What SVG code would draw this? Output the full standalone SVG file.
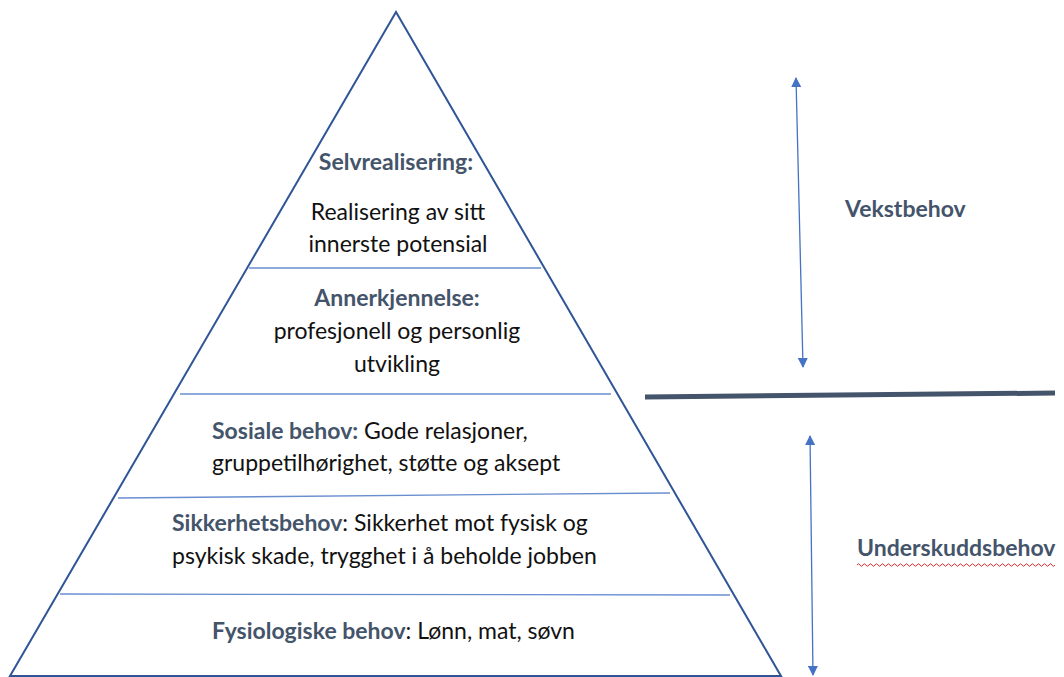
<svg xmlns="http://www.w3.org/2000/svg" width="1064" height="677" viewBox="0 0 1064 677">
<style>
.t{font-family:Lato,"Open Sans","Liberation Sans",sans-serif;font-size:23px;fill:#111}
.h{font-weight:bold;fill:#44546A}
.edge{fill:none;stroke:#2F5597;stroke-width:2}
.div{stroke:#4472C4;stroke-width:1.3;stroke-opacity:0.8}
.arr{stroke:#4472C4;stroke-width:1.3;marker-start:url(#ah);marker-end:url(#ah)}
</style>
<defs>
<marker id="ah" viewBox="0 0 10 10" refX="9" refY="5" markerWidth="10" markerHeight="10" markerUnits="userSpaceOnUse" orient="auto-start-reverse">
<path d="M0,0 L10,5 L0,10 z" fill="#4472C4"/>
</marker>
</defs>
<rect width="1064" height="677" fill="#fff"/>
<g id="pyramid">
<polygon class="edge" points="396,12 10,676 781,676"/>
</g>
<g id="level-selvrealisering">
<text class="t h" x="396" y="170" text-anchor="middle">Selvrealisering:</text>
<text class="t" x="398" y="220" text-anchor="middle">Realisering av sitt</text>
<text class="t" x="398" y="252" text-anchor="middle">innerste potensial</text>
</g>
<line class="div" x1="249" y1="268" x2="541" y2="268"/>
<g id="level-annerkjennelse">
<text class="t h" x="397" y="306" text-anchor="middle">Annerkjennelse:</text>
<text class="t" x="397" y="339" text-anchor="middle">profesjonell og personlig</text>
<text class="t" x="397" y="372" text-anchor="middle">utvikling</text>
</g>
<line class="div" x1="180" y1="394" x2="611" y2="394"/>
<g id="level-sosiale">
<text class="t" x="212" y="439"><tspan class="h">Sosiale behov:</tspan> Gode relasjoner,</text>
<text class="t" x="212" y="471">gruppetilhørighet, støtte og aksept</text>
</g>
<line class="div" x1="118" y1="498" x2="670" y2="493"/>
<g id="level-sikkerhet">
<text class="t" x="172" y="531"><tspan class="h">Sikkerhetsbehov</tspan>: Sikkerhet mot fysisk og</text>
<text class="t" x="172" y="564">psykisk skade, trygghet i å beholde jobben</text>
</g>
<line class="div" x1="60" y1="594" x2="730" y2="595"/>
<g id="level-fysiologiske">
<text class="t" x="212" y="639"><tspan class="h">Fysiologiske behov</tspan>: Lønn, mat, søvn</text>
</g>
<g id="connectors">
<line class="arr" x1="796" y1="78" x2="803" y2="367"/>
<line class="arr" x1="810" y1="436" x2="813" y2="675"/>
<line x1="645" y1="397" x2="1055" y2="393" stroke="#44546A" stroke-width="5"/>
</g>
<g id="label-vekst">
<text class="t h" x="845" y="217">Vekstbehov</text>
</g>
<g id="label-underskudd">
<text class="t h" x="857" y="556">Underskuddsbehov</text>
<path d="M857,565 q1.5,-2.5 3,0 t3,0 t3,0 t3,0 t3,0 t3,0 t3,0 t3,0 t3,0 t3,0 t3,0 t3,0 t3,0 t3,0 t3,0 t3,0 t3,0 t3,0 t3,0 t3,0 t3,0 t3,0 t3,0 t3,0 t3,0 t3,0 t3,0 t3,0 t3,0 t3,0 t3,0 t3,0 t3,0 t3,0 t3,0 t3,0 t3,0 t3,0 t3,0 t3,0 t3,0 t3,0 t3,0 t3,0 t3,0 t3,0 t3,0 t3,0 t3,0 t3,0 t3,0 t3,0 t3,0 t3,0 t3,0 t3,0 t3,0 t3,0 t3,0 t3,0 t3,0 t3,0 t3,0 t3,0 t3,0 t3,0" fill="none" stroke="#E03030" stroke-width="1"/>
</g>
</svg>
